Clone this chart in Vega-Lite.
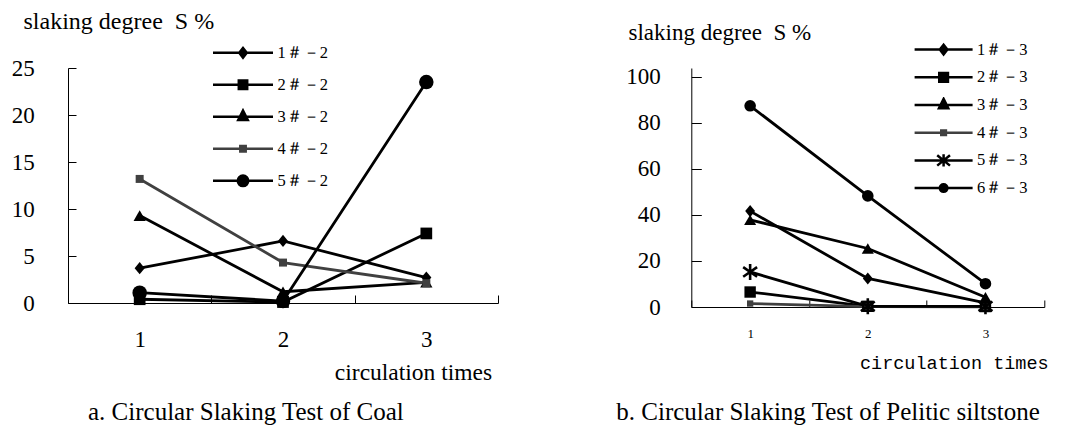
{
  "$schema": "https://vega.github.io/schema/vega-lite/v6.json",
  "background": "white",
  "padding": {"left": 11, "top": 9, "right": 0, "bottom": 0},
  "bounds": "flush",
  "spacing": 193.3,
  "config": {
    "view": {"stroke": null},
    "font": "Liberation Serif",
    "axis": {
      "grid": false,
      "domainColor": "#000",
      "tickColor": "#000",
      "labelColor": "#000",
      "titleColor": "#000",
      "domainWidth": 1,
      "tickWidth": 1,
      "labelFont": "Liberation Serif",
      "titleFont": "Liberation Serif",
      "titleFontWeight": "normal",
      "labelFlush": false,
      "labelOverlap": false
    },
    "title": {"font": "Liberation Serif", "fontWeight": "normal", "color": "#000", "fontSize": 25}
  },
  "datasets": {
    "coal": [
      {"series": "1＃－2", "t": 1, "s": 3.7}, {"series": "1＃－2", "t": 2, "s": 6.6}, {"series": "1＃－2", "t": 3, "s": 2.7},
      {"series": "2＃－2", "t": 1, "s": 0.4}, {"series": "2＃－2", "t": 2, "s": 0.1}, {"series": "2＃－2", "t": 3, "s": 7.4},
      {"series": "3＃－2", "t": 1, "s": 9.3}, {"series": "3＃－2", "t": 2, "s": 1.2}, {"series": "3＃－2", "t": 3, "s": 2.2},
      {"series": "4＃－2", "t": 1, "s": 13.2}, {"series": "4＃－2", "t": 2, "s": 4.3}, {"series": "4＃－2", "t": 3, "s": 2.1},
      {"series": "5＃－2", "t": 1, "s": 1.1}, {"series": "5＃－2", "t": 2, "s": 0.2}, {"series": "5＃－2", "t": 3, "s": 23.5}
    ],
    "silt": [
      {"series": "1＃－3", "t": 1, "s": 41.6}, {"series": "1＃－3", "t": 2, "s": 12.4}, {"series": "1＃－3", "t": 3, "s": 1.8},
      {"series": "2＃－3", "t": 1, "s": 6.5}, {"series": "2＃－3", "t": 2, "s": 0.3}, {"series": "2＃－3", "t": 3, "s": 0.2},
      {"series": "3＃－3", "t": 1, "s": 37.8}, {"series": "3＃－3", "t": 2, "s": 25.4}, {"series": "3＃－3", "t": 3, "s": 4.2},
      {"series": "4＃－3", "t": 1, "s": 1.5}, {"series": "4＃－3", "t": 2, "s": 0.2}, {"series": "4＃－3", "t": 3, "s": 0.1},
      {"series": "5＃－3", "t": 1, "s": 15.2}, {"series": "5＃－3", "t": 2, "s": 0.3}, {"series": "5＃－3", "t": 3, "s": 0.3},
      {"series": "6＃－3", "t": 1, "s": 87.3}, {"series": "6＃－3", "t": 2, "s": 48.2}, {"series": "6＃－3", "t": 3, "s": 10.1}
    ]
  },
  "hconcat": [
    {
      "width": 430,
      "height": 235,
      "data": {"name": "coal"},
      "title": {"text": "a. Circular Slaking Test of Coal", "orient": "bottom", "anchor": "start", "frame": "group", "dx": 20, "offset": 16},
      "resolve": {"scale": {"shape": "independent", "fill": "independent", "stroke": "independent", "size": "independent", "strokeWidth": "independent"}},
      "encoding": {
        "x": {
          "field": "t", "type": "ordinal", "bandPosition": 0.5,
          "scale": {"type": "band", "paddingInner": 0, "paddingOuter": 0},
          "axis": {"tickBand": "extent", "tickSize": -8, "labelAngle": 0, "labelFontSize": 23, "labelBaseline": "alphabetic", "labelPadding": 51.3,
                   "title": "circulation times", "titleFontSize": 23.5, "titleAlign": "center", "titleBaseline": "alphabetic", "titleX": 345, "titleY": 76.3}
        },
        "y": {
          "field": "s", "type": "quantitative",
          "scale": {"domain": [0, 25], "nice": false},
          "axis": {"values": [0, 5, 10, 15, 20, 25], "tickSize": -8, "labelFontSize": 23, "labelPadding": 41.7,
                   "title": "slaking degree\u00a0 S %", "titleFontSize": 24, "titleAngle": 0, "titleAlign": "left", "titleBaseline": "alphabetic", "titleX": -45, "titleY": -40}
        }
      },
      "layer": [
        {
          "mark": {"type": "line", "strokeWidth": 2.8},
          "encoding": {
            "detail": {"field": "series", "type": "nominal"},
            "stroke": {"field": "series", "type": "nominal", "scale": {"domain": ["1＃－2", "2＃－2", "3＃－2", "4＃－2", "5＃－2"], "range": ["#000", "#000", "#000", "#404040", "#000"]}, "legend": null}
          }
        },
        {
          "mark": {"type": "point", "filled": true, "opacity": 1},
          "encoding": {
            "shape": {"field": "series", "type": "nominal", "scale": {"domain": ["1＃－2", "2＃－2", "3＃－2", "4＃－2", "5＃－2"], "range": ["M0,-1.1L0.9,0L0,1.1L-0.9,0Z", "square", "triangle-up", "square", "circle"]}, "legend": null},
            "fill": {"field": "series", "type": "nominal", "scale": {"domain": ["1＃－2", "2＃－2", "3＃－2", "4＃－2", "5＃－2"], "range": ["#000", "#000", "#000", "#404040", "#000"]}, "legend": null},
            "size": {"field": "series", "type": "ordinal", "scale": {"type": "ordinal", "domain": ["1＃－2", "2＃－2", "3＃－2", "4＃－2", "5＃－2"], "range": [125, 137, 150, 64, 210]}, "legend": null}
          }
        },
        {
          "mark": {"type": "point", "filled": true, "opacity": 0, "size": 3600},
          "encoding": {
            "shape": {"field": "series", "type": "nominal", "scale": {"domain": ["1＃－2", "2＃－2", "3＃－2", "4＃－2", "5＃－2"], "range": [
              "M-1,0L1,0M0,-0.16L0.125,0L0,0.16L-0.125,0Z",
              "M-1,0L1,0M-0.14,-0.14L0.14,-0.14L0.14,0.14L-0.14,0.14Z",
              "M-1,0L1,0M0,-0.21L0.16,0.11L-0.16,0.11Z",
              "M-1,0L1,0M-0.09,-0.09L0.09,-0.09L0.09,0.09L-0.09,0.09Z",
              "M-1,0L1,0M-0.175,0A0.175,0.175,0,1,0,0.175,0A0.175,0.175,0,1,0,-0.175,0Z"]},
              "legend": {"orient": "none", "legendX": 143.5, "legendY": -25.2, "direction": "vertical", "title": null, "padding": 0, "symbolSize": 3600, "symbolStrokeWidth": 2.5, "symbolOpacity": 1, "clipHeight": 20, "rowPadding": 12, "labelOffset": 3, "symbolOffset": 0, "labelFont": "Liberation Serif", "labelFontSize": 16.5, "labelColor": "#000"}},
            "fill": {"field": "series", "type": "nominal", "scale": {"domain": ["1＃－2", "2＃－2", "3＃－2", "4＃－2", "5＃－2"], "range": ["#000", "#000", "#000", "#404040", "#000"]},
              "legend": {"orient": "none", "legendX": 143.5, "legendY": -25.2, "direction": "vertical", "title": null, "padding": 0, "symbolSize": 3600, "symbolStrokeWidth": 2.5, "symbolOpacity": 1, "clipHeight": 20, "rowPadding": 12, "labelOffset": 3, "symbolOffset": 0, "labelFont": "Liberation Serif", "labelFontSize": 16.5, "labelColor": "#000"}},
            "stroke": {"field": "series", "type": "nominal", "scale": {"domain": ["1＃－2", "2＃－2", "3＃－2", "4＃－2", "5＃－2"], "range": ["#000", "#000", "#000", "#404040", "#000"]},
              "legend": {"orient": "none", "legendX": 143.5, "legendY": -25.2, "direction": "vertical", "title": null, "padding": 0, "symbolSize": 3600, "symbolStrokeWidth": 2.5, "symbolOpacity": 1, "clipHeight": 20, "rowPadding": 12, "labelOffset": 3, "symbolOffset": 0, "labelFont": "Liberation Serif", "labelFontSize": 16.5, "labelColor": "#000"}}
          }
        }
      ]
    },
    {
      "width": 353,
      "height": 239,
      "data": {"name": "silt"},
      "title": {"text": "b. Circular Slaking Test of Pelitic siltstone", "orient": "bottom", "anchor": "start", "frame": "group", "dx": -75, "offset": 28},
      "resolve": {"scale": {"shape": "independent", "fill": "independent", "stroke": "independent", "size": "independent", "strokeWidth": "independent"}},
      "encoding": {
        "x": {
          "field": "t", "type": "ordinal", "bandPosition": 0.5,
          "scale": {"type": "band", "paddingInner": 0, "paddingOuter": 0},
          "axis": {"tickBand": "extent", "tickSize": -7, "labelAngle": 0, "labelFontSize": 13, "labelBaseline": "alphabetic", "labelPadding": 37,
                   "title": "circulation times", "titleFont": "Liberation Mono", "titleFontSize": 18.5, "titleAlign": "center", "titleBaseline": "alphabetic", "titleX": 262.5, "titleY": 61.3}
        },
        "y": {
          "field": "s", "type": "quantitative",
          "scale": {"domain": [0, 103.7], "nice": false},
          "axis": {"values": [0, 20, 40, 60, 80, 100], "tickSize": -10, "labelFontSize": 23, "labelPadding": 41,
                   "title": "slaking degree\u00a0 S %", "titleFontSize": 23, "titleAngle": 0, "titleAlign": "left", "titleBaseline": "alphabetic", "titleX": -63.3, "titleY": -28.4}
        }
      },
      "layer": [
        {
          "mark": {"type": "line", "strokeWidth": 2.8},
          "encoding": {
            "detail": {"field": "series", "type": "nominal"},
            "stroke": {"field": "series", "type": "nominal", "scale": {"domain": ["1＃－3", "2＃－3", "3＃－3", "4＃－3", "5＃－3", "6＃－3"], "range": ["#000", "#000", "#000", "#404040", "#000", "#000"]}, "legend": null}
          }
        },
        {
          "mark": {"type": "point", "filled": true, "opacity": 1},
          "encoding": {
            "shape": {"field": "series", "type": "nominal", "scale": {"domain": ["1＃－3", "2＃－3", "3＃－3", "4＃－3", "5＃－3", "6＃－3"], "range": ["M0,-1.1L0.9,0L0,1.1L-0.9,0Z", "square", "triangle-up", "square", "M0,-1L0,1M-0.87,-0.6L0.87,0.6M-0.87,0.6L0.87,-0.6", "circle"]}, "legend": null},
            "fill": {"field": "series", "type": "nominal", "scale": {"domain": ["1＃－3", "2＃－3", "3＃－3", "4＃－3", "5＃－3", "6＃－3"], "range": ["#000", "#000", "#000", "#404040", "#000", "#000"]}, "legend": null},
            "stroke": {"field": "series", "type": "nominal", "scale": {"domain": ["1＃－3", "2＃－3", "3＃－3", "4＃－3", "5＃－3", "6＃－3"], "range": ["#000", "#000", "#000", "#404040", "#000", "#000"]}, "legend": null},
            "strokeWidth": {"condition": {"test": "datum.series === '5＃－3'", "value": 2.6}, "value": 0},
            "size": {"field": "series", "type": "ordinal", "scale": {"type": "ordinal", "domain": ["1＃－3", "2＃－3", "3＃－3", "4＃－3", "5＃－3", "6＃－3"], "range": [120, 130, 145, 40, 256, 135]}, "legend": null}
          }
        },
        {
          "mark": {"type": "point", "filled": true, "opacity": 0, "size": 3364},
          "encoding": {
            "shape": {"field": "series", "type": "nominal", "scale": {"domain": ["1＃－3", "2＃－3", "3＃－3", "4＃－3", "5＃－3", "6＃－3"], "range": [
              "M-1,0L1,0M0,-0.165L0.13,0L0,0.165L-0.13,0Z",
              "M-1,0L1,0M-0.15,-0.15L0.15,-0.15L0.15,0.15L-0.15,0.15Z",
              "M-1,0L1,0M0,-0.21L0.16,0.11L-0.16,0.11Z",
              "M-1,0L1,0M-0.08,-0.08L0.08,-0.08L0.08,0.08L-0.08,0.08Z",
              "M-1,0L1,0M0,-0.21L0,0.21M-0.22,-0.18L0.22,0.18M-0.22,0.18L0.22,-0.18",
              "M-1,0L1,0M-0.13,0A0.13,0.13,0,1,0,0.13,0A0.13,0.13,0,1,0,-0.13,0Z"]},
              "legend": {"orient": "none", "legendX": 221.8, "legendY": -26.4, "direction": "vertical", "title": null, "padding": 0, "symbolSize": 3364, "symbolStrokeWidth": 2.5, "symbolOpacity": 1, "clipHeight": 16, "rowPadding": 10.7, "labelOffset": 3, "symbolOffset": 0, "labelFont": "Liberation Serif", "labelFontSize": 16.5, "labelColor": "#000"}},
            "fill": {"field": "series", "type": "nominal", "scale": {"domain": ["1＃－3", "2＃－3", "3＃－3", "4＃－3", "5＃－3", "6＃－3"], "range": ["#000", "#000", "#000", "#404040", "#000", "#000"]},
              "legend": {"orient": "none", "legendX": 221.8, "legendY": -26.4, "direction": "vertical", "title": null, "padding": 0, "symbolSize": 3364, "symbolStrokeWidth": 2.5, "symbolOpacity": 1, "clipHeight": 16, "rowPadding": 10.7, "labelOffset": 3, "symbolOffset": 0, "labelFont": "Liberation Serif", "labelFontSize": 16.5, "labelColor": "#000"}},
            "stroke": {"field": "series", "type": "nominal", "scale": {"domain": ["1＃－3", "2＃－3", "3＃－3", "4＃－3", "5＃－3", "6＃－3"], "range": ["#000", "#000", "#000", "#404040", "#000", "#000"]},
              "legend": {"orient": "none", "legendX": 221.8, "legendY": -26.4, "direction": "vertical", "title": null, "padding": 0, "symbolSize": 3364, "symbolStrokeWidth": 2.5, "symbolOpacity": 1, "clipHeight": 16, "rowPadding": 10.7, "labelOffset": 3, "symbolOffset": 0, "labelFont": "Liberation Serif", "labelFontSize": 16.5, "labelColor": "#000"}}
          }
        }
      ]
    }
  ]
}
